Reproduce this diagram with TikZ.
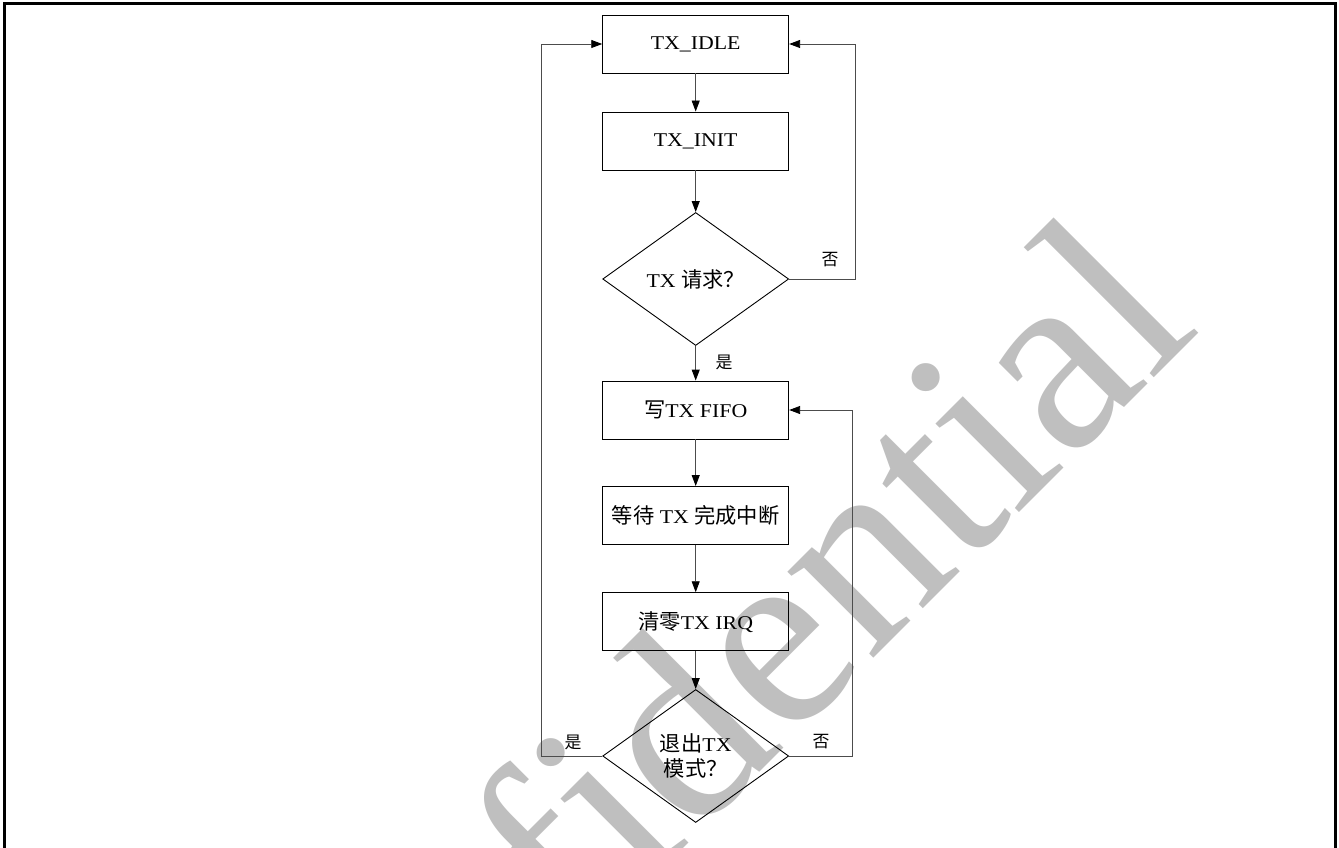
\documentclass[tikz,border=0pt]{standalone}
\usepackage{fontspec}
\setmainfont{Liberation Serif}[FakeStretch=1.12]
\newfontfamily\cjk{Noto Sans CJK SC}[Scale=1.09]
\newfontfamily\wmfont{Liberation Serif}[Ligatures=NoCommon]
\usetikzlibrary{shapes.geometric,arrows.meta}
\newcommand{\boxfont}{\fontsize{19.5}{25}\selectfont}
\newcommand{\labfont}{\fontsize{15.5}{18}\selectfont}
\newcommand{\zh}[1]{{\cjk #1}}
\begin{document}
\begin{tikzpicture}[x=1pt,y=-1pt,
  box/.style={draw=black, line width=0.9pt, minimum width=186pt, minimum height=58pt, inner sep=0pt, font=\boxfont},
  dia/.style={draw=black, line width=0.9pt, diamond, aspect=1.4, minimum width=186pt, minimum height=133pt, inner sep=0pt, font=\boxfont, align=center},
  conn/.style={draw=black!70, line width=0.9pt, -{Triangle[length=11pt,width=8pt,color=black]}},
  lab/.style={font=\labfont, inner sep=0pt},
  frame/.style={line width=3pt, draw=black},
  wm/.style={text=black!25, inner sep=0pt, anchor=base west, rotate=45, font=\wmfont\fontsize{265}{265}\selectfont}]
\useasboundingbox (0,0) rectangle (1339,848);
\begin{scope}
  \clip (0,0) rectangle (1339,848);
  \node[wm] (wmark) at (266,1266) {Confidential};
\end{scope}
\draw[frame] (4,850) -- (4,4) -- (1335,4) -- (1335,850);
% nodes
\node[box] (idle) at (695.7,44) {TX\_IDLE};
\node[box] (init) at (695.7,141) {TX\_INIT};
\node[dia] (dec1) at (695.7,279) {TX \zh{请求？}};
\node[box] (fifo) at (695.7,410) {\zh{写}TX FIFO};
\node[box] (wait) at (695.7,515.5) {\zh{等待} TX \zh{完成中断}};
\node[box] (clr) at (695.7,621.7) {\zh{清零}TX IRQ};
\node[dia] (dec2) at (695.7,756) {\zh{退出}TX\\\zh{模式？}};
% corner coordinates
\coordinate (r1b) at (855.7,279);
\coordinate (r1t) at (855.7,44);
\coordinate (r2b) at (852.7,756);
\coordinate (r2t) at (852.7,410);
\coordinate (l2b) at (541,756);
\coordinate (l2t) at (541,44);
% connectors
\draw[conn] (idle) -- (init);
\draw[conn] (init) -- (dec1);
\draw[conn] (dec1.east) -- (r1b) -- (r1t) -- (idle.east);
\draw[conn] (dec1) -- (fifo);
\draw[conn] (fifo) -- (wait);
\draw[conn] (wait) -- (clr);
\draw[conn] (clr) -- (dec2);
\draw[conn] (dec2.east) -- (r2b) -- (r2t) -- (fifo.east);
\draw[conn] (dec2.west) -- (l2b) -- (l2t) -- (idle.west);
% labels
\node[lab] (no1) at (830,260) {\zh{否}};
\node[lab] (yes1) at (724,362) {\zh{是}};
\node[lab] (no2) at (821,742) {\zh{否}};
\node[lab] (yes2) at (573,742) {\zh{是}};
\end{tikzpicture}
\end{document}
